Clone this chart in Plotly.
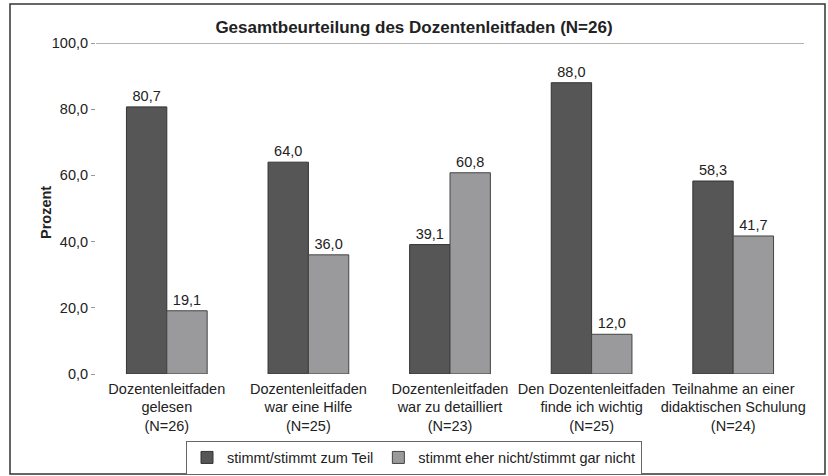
import plotly.graph_objects as go

categories = [
    "Dozentenleitfaden<br>gelesen<br>(N=26)",
    "Dozentenleitfaden<br>war eine Hilfe<br>(N=25)",
    "Dozentenleitfaden<br>war zu detailliert<br>(N=23)",
    "Den Dozentenleitfaden<br>finde ich wichtig<br>(N=25)",
    "Teilnahme an einer<br>didaktischen Schulung<br>(N=24)",
]
stimmt = [80.7, 64.0, 39.1, 88.0, 58.3]
stimmt_nicht = [19.1, 36.0, 60.8, 12.0, 41.7]
series_names = ["stimmt/stimmt zum Teil", "stimmt eher nicht/stimmt gar nicht"]
title = "Gesamtbeurteilung des Dozentenleitfaden (N=26)"
y_title = "Prozent"
y_ticks = [0, 20, 40, 60, 80, 100]

FONT = "Liberation Sans, Arial, sans-serif"
FS = 14.5

fig = go.Figure()
fig.add_trace(go.Bar(
    x=categories, y=stimmt, name=series_names[0],
    marker=dict(color="#565656", line=dict(color="#333333", width=1)),
    text=stimmt, texttemplate="%{y:.1f}", textposition="outside",
    textfont=dict(size=FS, color="#222222", family=FONT), cliponaxis=False,
))
fig.add_trace(go.Bar(
    x=categories, y=stimmt_nicht, name=series_names[1],
    marker=dict(color="#9a9a9c", line=dict(color="#444444", width=1)),
    text=stimmt_nicht, texttemplate="%{y:.1f}", textposition="outside",
    textfont=dict(size=FS, color="#222222", family=FONT), cliponaxis=False,
))

W, H = 828, 476
L, R, T, B = 96, 24, 43, 102
pw = W - L - R
ph = H - T - B

def px_x(x):
    return (x - L) / pw

def px_y(y):
    return (H - B - y) / ph

fig.update_layout(
    width=W, height=H,
    margin=dict(l=L, r=R, t=T, b=B, autoexpand=False),
    paper_bgcolor="white", plot_bgcolor="white",
    separators=",.",
    barmode="group", bargap=0.43, bargroupgap=0,
    font=dict(family=FONT, size=FS, color="#222222"),
    title=dict(text="<b>" + title + "</b>", x=0.5, xanchor="center",
               y=1 - 27 / H, yanchor="middle",
               font=dict(size=17, color="#222222", family=FONT)),
    showlegend=True,
    legend=dict(orientation="h", xref="container", yref="container",
                x=0.5, xanchor="center", y=1 - 457.5 / H, yanchor="middle",
                bordercolor="#666666", borderwidth=1,
                font=dict(size=FS, color="#222222", family=FONT),
                itemwidth=30, tracegroupgap=0),
    xaxis=dict(showline=False, ticks="", showgrid=False, automargin=False,
               tickangle=0, ticklabelstandoff=4,
               tickfont=dict(size=FS, color="#222222", family=FONT)),
    yaxis=dict(range=[0, 100], tickvals=y_ticks, tickformat=".1f",
               showgrid=False, zeroline=False, showline=False, automargin=False,
               ticks="outside", ticklen=4, tickcolor="#999999",
               tickfont=dict(size=FS, color="#222222", family=FONT)),
    annotations=[
        dict(text="<b>" + y_title + "</b>", xref="paper", yref="paper",
             x=px_x(46), y=px_y(213), xanchor="center", yanchor="middle",
             textangle=-90, showarrow=False,
             font=dict(size=FS, color="#222222", family=FONT)),
    ],
    shapes=[
        dict(type="line", xref="paper", yref="y", x0=0, x1=1, y0=100, y1=100,
             line=dict(color="#666666", width=1)),
        dict(type="rect", xref="paper", yref="paper",
             x0=px_x(10), x1=px_x(825), y0=px_y(474), y1=px_y(4),
             line=dict(color="#333333", width=1.5)),
    ],
)

fig.write_html("out.html", config={"displayModeBar": False},
               post_script="document.body.style.margin='0';document.body.style.overflow='hidden';")
